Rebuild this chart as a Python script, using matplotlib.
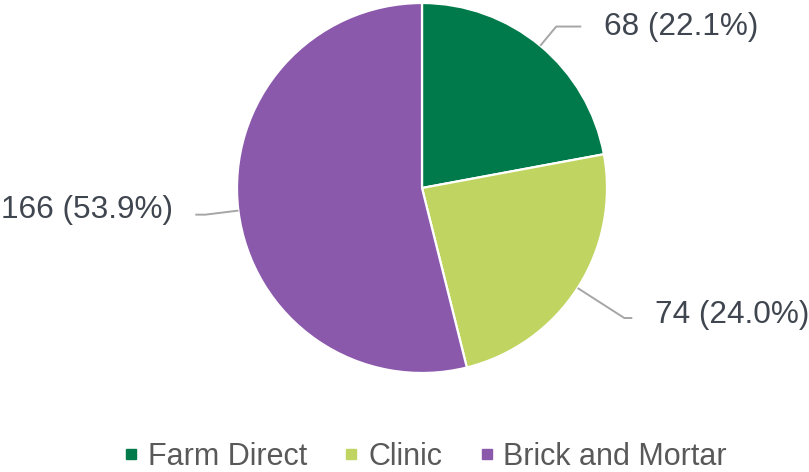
import matplotlib.pyplot as plt
import numpy as np
from matplotlib.lines import Line2D

plt.rcParams["font.family"] = ["Liberation Sans", "DejaVu Sans"]

# channel split
channels = ["Farm Direct", "Clinic", "Brick and Mortar"]
counts = [68, 74, 166]
colors = ["#007A4B", "#C0D462", "#8B59AC"]

# leader line layout per slice: elbow radius (x R), horizontal run (px),
# gap to text (px), baseline drop below line end (px)
elbow_r = [1.135, 1.3, 1.18]
run_len = [25, 8, 10]
text_gap = [23, 23, 22]
text_drop = [8, 5, 3]

W, H = 809, 472
fig = plt.figure(figsize=(W / 100, H / 100), dpi=100)
ax = fig.add_axes([0, 0, 1, 1])

cx, cy, R = 422, H - 188, 185
wedges, _ = ax.pie(counts, colors=colors, startangle=90, counterclock=False,
                   center=(cx, cy), radius=R,
                   wedgeprops=dict(edgecolor="white", linewidth=1.6))
ax.set_xlim(0, W)
ax.set_ylim(0, H)
ax.set_aspect("auto")
ax.axis("off")

total = sum(counts)
for i, w in enumerate(wedges):
    ang = np.deg2rad((w.theta1 + w.theta2) / 2)
    ux, uy = np.cos(ang), np.sin(ang)
    x0, y0 = cx + R * ux, cy + R * uy
    x1, y1 = cx + elbow_r[i] * R * ux, cy + elbow_r[i] * R * uy
    side = 1 if ux >= 0 else -1
    x2 = x1 + side * run_len[i]
    ax.plot([x0, x1, x2], [y0, y1, y1], color="#A6A6A6", lw=1.4,
            solid_capstyle="butt")
    label = f"{counts[i]} ({counts[i] / total * 100:.1f}%)"
    ax.text(x2 + side * text_gap[i], y1 - text_drop[i], label,
            ha="left" if side > 0 else "right", va="baseline",
            fontsize=22.7, color="#404650")

handles = [Line2D([], [], ls="none", marker="s", markersize=7,
                  markerfacecolor=c, markeredgecolor=c) for c in colors]
fig.legend(handles, channels, loc="center", bbox_to_anchor=(426 / W, 1 - 457 / H),
           ncol=3, frameon=False, fontsize=22, labelcolor="#595959",
           handlelength=0.4, handletextpad=0.35, columnspacing=1.25,
           borderpad=0.2)

fig.savefig("out.png", dpi=100)
